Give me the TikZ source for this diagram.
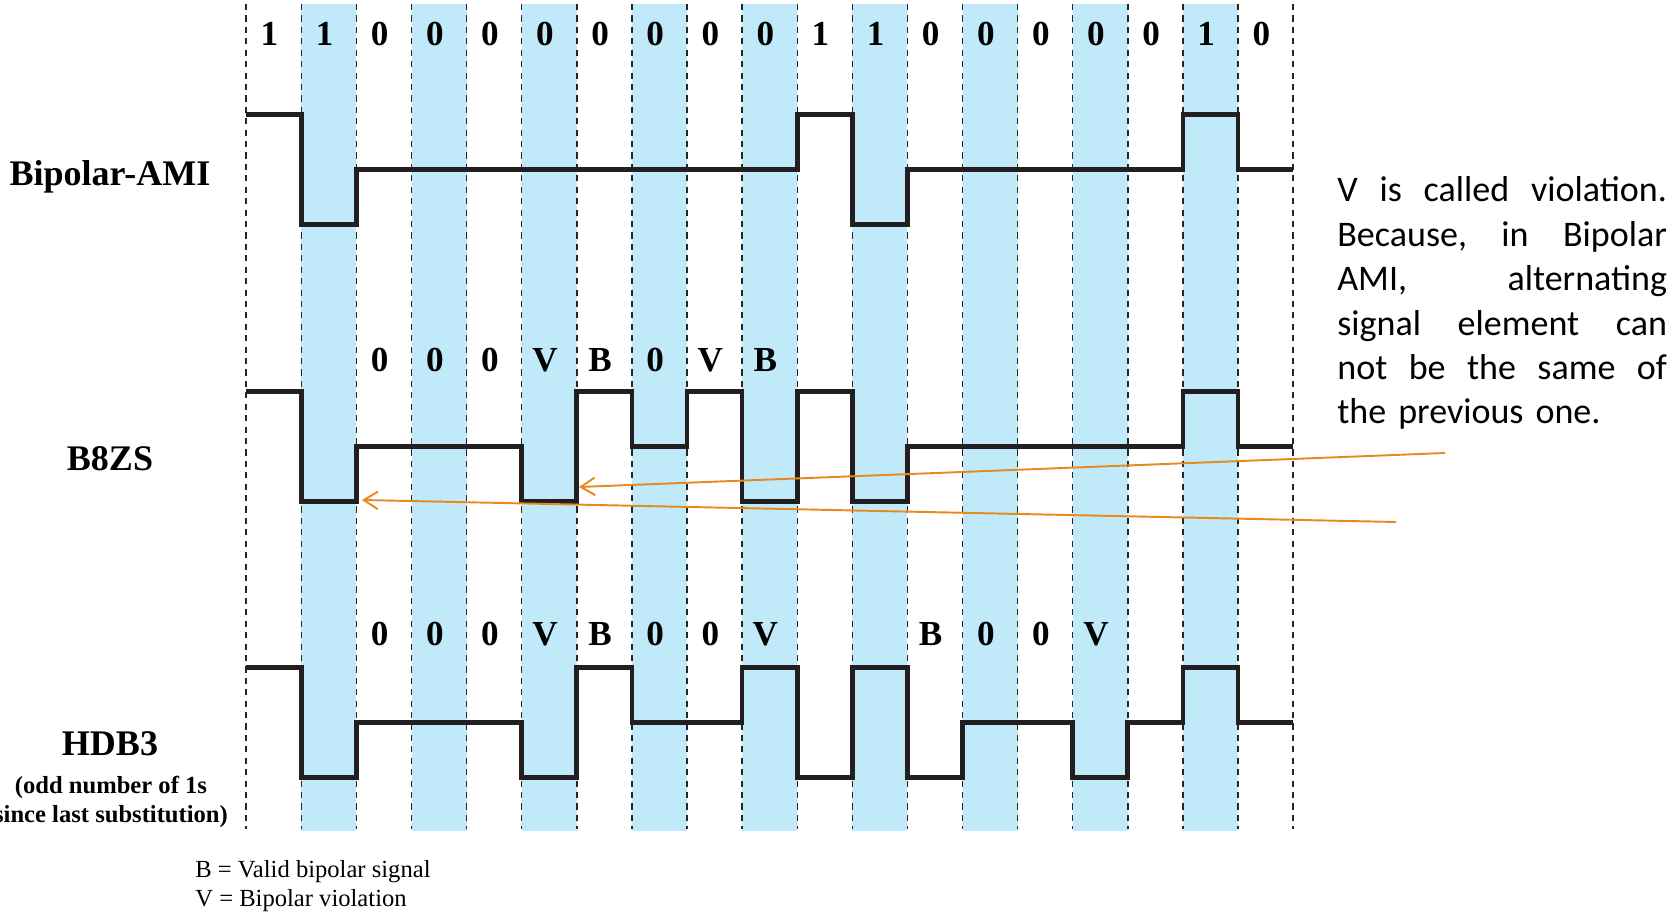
\documentclass[tikz,border=0pt]{standalone}
\usepackage{fontspec}
\setmainfont{Liberation Serif}
\newfontfamily\notefont{Carlito}
\usetikzlibrary{arrows.meta, positioning, calc}
\definecolor{stripe blue}{RGB}{192,234,249}
\definecolor{note orange}{RGB}{232,137,30}
\definecolor{sig black}{RGB}{35,31,32}
\tikzset{
  bit stripe/.style={fill=stripe blue, draw=none},
  bit grid/.style={draw=black!85, line width=0.8pt, dash pattern=on 3.5pt off 3pt},
  sig line/.style={draw=sig black, line width=2.7pt, line join=miter},
  bit label/.style={font=\fontsize{20}{24}\selectfont\bfseries, anchor=base, inner sep=0pt},
  row label/.style={font=\fontsize{20.5}{24}\selectfont\bfseries, anchor=base, inner sep=0pt},
  row note/.style={font=\fontsize{14}{16}\selectfont\bfseries, anchor=base, inner sep=0pt},
  legend text/.style={font=\fontsize{14}{16}\selectfont, anchor=base west, inner sep=0pt},
  note text/.style={font=\notefont\fontsize{20.5}{25.3}\selectfont, text width=187.6pt,
    anchor=base west, inner sep=0pt, align=left},
  note arrow/.style={-{Straight Barb[length=8pt,width=10pt]}, draw=note orange, line width=1.1pt}
}
% one bit = 55.1 units, first boundary at 246.2
\newcommand\wave[3]{% zero line, first level, levels
  \draw[sig line] (246.2,{#1-55*(#2)})
    \foreach \l [count=\i from 0] in {#3} {
      -- ({246.2+55.1*\i},{#1-55*(\l)}) -- ({301.3+55.1*\i},{#1-55*(\l)})
    };
}
\newcommand\jline[1]{\makebox[187.6pt][l]{#1}}

\begin{document}
\begin{tikzpicture}[x=0.02cm, y=-0.02cm]
  \useasboundingbox (0,0) rectangle (1671,913);

  % stripes and bit boundaries
  \foreach \i in {1,3,...,17}
    \fill[bit stripe] ({246.2+55.1*\i},4) rectangle ++(55.1,827);
  \foreach \i in {0,...,19}
    \draw[bit grid] ({246.2+55.1*\i},4) -- ++(0,825);

  % data bits
  \foreach \b [count=\i from 0] in {1,1,0,0,0,0,0,0,0,0,1,1,0,0,0,0,0,1,0}
    \node (bit\i) [bit label] at ({269.5+55.1*\i},45) {\b};

  % signals
  \wave{169.5}{1}{1,-1,0,0,0,0,0,0,0,0,1,-1,0,0,0,0,0,1,0}
  \wave{446.5}{1}{1,-1,0,0,0,-1,1,0,1,-1,1,-1,0,0,0,0,0,1,0}
  \wave{722.5}{1}{1,-1,0,0,0,-1,1,0,0,1,-1,1,-1,0,0,-1,0,1,0}

  % substitution codes
  \foreach \c [count=\i from 2] in {0,0,0,V,B,0,V,B}
    \node (bz\i) [bit label] at ({269.5+55.1*\i},371) {\c};
  \foreach \c [count=\i from 2] in {0,0,0,V,B,0,0,V}
    \node (hd\i) [bit label] at ({269.5+55.1*\i},645.5) {\c};
  \foreach \c [count=\i from 12] in {B,0,0,V}
    \node (hd\i) [bit label] at ({269.5+55.1*\i},645.5) {\c};

  % row names
  \node (ami) [row label] at (110,185.5) {Bipolar-AMI};
  \node (bzs) [row label] at (110,470) {B8ZS};
  \node (hdb) [row label] at (110,755) {HDB3};
  \node (odd) [row note] at (111,793) {(odd number of 1s};
  \node (last) [row note] at (111,822) {since last substitution)};

  % legend
  \node (legb) [legend text] at (195,877) {B = Valid bipolar signal};
  \node (legv) [legend text] at (195,906) {V = Bipolar violation};

  % note
  \node (note) [note text] at (1337,201.7) {%
    \jline{V\hfill is\hfill called\hfill violation.}\\
    \jline{Because,\hfill in\hfill Bipolar}\\
    \jline{AMI,\hfill alternating}\\
    \jline{signal\hfill element\hfill can}\\
    \jline{not\hfill be\hfill the\hfill same\hfill of}\\
    the previous one.};

  \coordinate (tail1) at (1445,453);
  \coordinate (tail2) at (1396,522);
  \coordinate (viol1) at (579,487);
  \coordinate (prev1) at (362,500);
  \draw[note arrow] (tail1) -- (viol1);
  \draw[note arrow] (tail2) -- (prev1);
\end{tikzpicture}
\end{document}
